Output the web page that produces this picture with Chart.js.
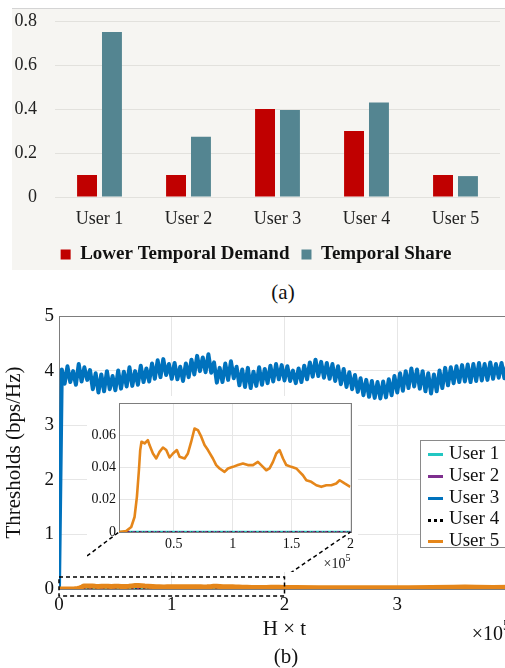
<!DOCTYPE html>
<html>
<head>
<meta charset="utf-8">
<script src="https://cdn.jsdelivr.net/npm/chart.js@4.4.1/dist/chart.umd.min.js"></script>
<style>
  html, body { margin: 0; padding: 0; width: 505px; height: 668px; overflow: hidden; background: #fff; }
  body { position: relative; font-family: 'Liberation Serif', serif; color: #111; }
  .abs { position: absolute; }
  #bgA { left: 12px; top: 8px; width: 493px; height: 262px; background: #f6f5f2; border-top: 1px solid #d4d4d4; box-sizing: border-box; }
  #chartA { left: 12px; top: 8px; }
  #mainB { left: 0; top: 300px; }
  #insetB { left: 87px; top: 396px; background: #fff; }
  .cap { width: 60px; text-align: center; font-size: 21px; line-height: 24px; }
  #legendB { left: 420px; top: 440px; width: 110px; height: 108px; border: 1px solid #8a8a8a; background: #fff; box-sizing: border-box; }
  .item { position: absolute; left: 0; height: 22px; line-height: 22px; font-size: 19px; white-space: nowrap; }
  .sw { display: inline-block; width: 15px; height: 0; margin: 0 6px 0 7px; vertical-align: middle; }
</style>
</head>
<body>
<div id="bgA" class="abs"></div>
<canvas id="chartA" class="abs" width="493" height="266"></canvas>
<div class="abs cap" style="left:253px; top:280px;">(a)</div>

<canvas id="mainB" class="abs" width="525" height="345"></canvas>
<canvas id="insetB" class="abs" width="271" height="176"></canvas>
<div id="legendB" class="abs"></div>
<div class="abs cap" style="left:256px; top:644px;">(b)</div>

<script>
// ---- panel (a) data ----
var userCats = ['User 1', 'User 2', 'User 3', 'User 4', 'User 5'];
var lowerDemand = [0.1, 0.1, 0.4, 0.3, 0.1];
var temporalShare = [0.75, 0.274, 0.395, 0.43, 0.095];

// ---- panel (b) data (x in units of 1e5) ----
var userNames = ['User 1', 'User 2', 'User 3', 'User 4', 'User 5'];
var userColors = ['#22c7c2', '#7e2f8e', '#0072bd', '#000000', '#e5861a'];

var zeroX = [0, 4];
var user1Thr = [0, 0];
var user2Thr = [0, 0];
var user4Thr = [0, 0];

var blueStep = 0.025;
var user3Thr = [0, 4.02, 3.76, 4.08, 3.79, 3.99, 3.74, 4.12, 3.80, 4.06,
  3.83, 4.01, 3.66, 3.95, 3.60, 3.93, 3.62, 3.99, 3.66, 3.90,
  3.64, 4.00, 3.67, 3.98, 3.71, 4.06, 3.72, 3.99, 3.74, 4.09,
  3.79, 4.04, 3.80, 4.13, 3.85, 4.19, 3.88, 4.21, 3.92, 4.12,
  3.85, 4.14, 3.84, 4.07, 3.81, 4.13, 3.88, 4.20, 3.93, 4.27,
  3.99, 4.24, 3.97, 4.30, 3.96, 4.15, 3.78, 4.05, 3.79, 4.13,
  3.83, 4.17, 3.86, 4.07, 3.73, 4.02, 3.70, 4.05, 3.68, 3.98,
  3.72, 4.06, 3.74, 4.03, 3.77, 4.09, 3.80, 4.12, 3.84, 4.10,
  3.82, 4.08, 3.81, 4.00, 3.77, 4.04, 3.79, 4.09, 3.84, 4.15,
  3.89, 4.20, 3.90, 4.16, 3.87, 4.14, 3.85, 4.12, 3.81, 4.08,
  3.75, 4.03, 3.70, 3.97, 3.66, 3.92, 3.61, 3.86, 3.55, 3.83,
  3.52, 3.81, 3.50, 3.79, 3.49, 3.80, 3.51, 3.84, 3.55, 3.90,
  3.60, 3.95, 3.63, 3.99, 3.68, 4.04, 3.71, 4.02, 3.67, 3.99,
  3.62, 3.95, 3.58, 3.93, 3.62, 4.00, 3.68, 4.05, 3.73, 4.06,
  3.77, 4.08, 3.79, 4.10, 3.80, 4.11, 3.79, 4.12, 3.81, 4.14,
  3.82, 4.12, 3.83, 4.15, 3.85, 4.12, 3.87, 4.14, 3.86, 4.11,
  3.88];

var user5X = [0, 0.034, 0.096, 0.139, 0.167, 0.187, 0.204, 0.215, 0.226, 0.252,
  0.280, 0.294, 0.323, 0.351, 0.379, 0.408, 0.436, 0.464, 0.493, 0.526,
  0.549, 0.592, 0.620, 0.648, 0.676, 0.705, 0.733, 0.761, 0.790, 0.832,
  0.860, 0.889, 0.931, 0.960, 1.002, 1.044, 1.087, 1.129, 1.172, 1.214,
  1.257, 1.285, 1.313, 1.342, 1.370, 1.398, 1.427, 1.455, 1.497, 1.540,
  1.568, 1.596, 1.625, 1.667, 1.710, 1.752, 1.795, 1.837, 1.879, 1.908,
  1.950, 1.998];
var user5Thr = [0, 0, 0.0006, 0.0031, 0.0093, 0.0218, 0.0383, 0.0508, 0.0560, 0.0549,
  0.0570, 0.0539, 0.0487, 0.0456, 0.0497, 0.0524, 0.0508, 0.0462, 0.0487, 0.0508,
  0.0466, 0.0456, 0.0487, 0.0560, 0.0642, 0.0632, 0.0591, 0.0539, 0.0508, 0.0456,
  0.0415, 0.0394, 0.0373, 0.0394, 0.0404, 0.0415, 0.0425, 0.0415, 0.0415, 0.0435,
  0.0404, 0.0383, 0.0394, 0.0435, 0.0487, 0.0508, 0.0456, 0.0415, 0.0404, 0.0394,
  0.0373, 0.0352, 0.0321, 0.0311, 0.0290, 0.0280, 0.0290, 0.0290, 0.0301, 0.0321,
  0.0301, 0.0280];
var user5TailX = [2.1, 2.3, 2.5, 2.7, 2.9, 3.1, 3.3, 3.5, 3.6, 3.7, 3.85, 4.0];
var user5Tail = [0.027, 0.025, 0.024, 0.022, 0.021, 0.024, 0.027, 0.030, 0.036, 0.032, 0.028, 0.030];

var mainXTicks = [0, 1, 2, 3, 4];
var mainXLabels = ['0', '1', '2', '3', ''];
var mainYTicks = [0, 1, 2, 3, 4, 5];
var insetXTicks = [0.5, 1, 1.5, 2];
var insetXLabels = ['0.5', '1', '1.5', '2'];
var insetYTicks = [0, 0.02, 0.04, 0.06];
var insetYLabels = ['0', '0.02', '0.04', '0.06'];

// zoomed region of the main plot (data units)
var zoomX = [0, 2];
var zoomY = [-0.13, 0.22];

function pts(xs, ys) {
  return ys.map(function (y, i) { return { x: xs[i], y: y }; });
}
var blueX = user3Thr.map(function (v, i) { return i * blueStep; });

var serif = 'Liberation Serif';
var gridGray = '#e6e6e6';
var frameGray = '#7d7d7d';

// drop the label overflow padding so the plot areas sit where layout.padding says
function noVPad(s) { s.paddingTop = 0; s.paddingBottom = 0; }

// ---------- panel (a) ----------
new Chart(document.getElementById('chartA'), {
  type: 'bar',
  data: {
    labels: userCats,
    datasets: [{
      label: 'Lower Temporal Demand',
      data: lowerDemand,
      backgroundColor: '#c00000',
      categoryPercentage: 0.56,
      barPercentage: 0.8
    }, {
      label: 'Temporal Share',
      data: temporalShare,
      backgroundColor: '#548591',
      categoryPercentage: 0.56,
      barPercentage: 0.8
    }]
  },
  options: {
    responsive: false,
    animation: false,
    events: [],
    layout: { padding: { top: 13, right: 5, left: 0, bottom: 0 } },
    plugins: {
      tooltip: { enabled: false },
      legend: {
        position: 'bottom',
        labels: {
          boxWidth: 10,
          boxHeight: 10,
          padding: 12,
          color: '#111',
          font: { family: serif, size: 19, weight: 'bold' }
        }
      }
    },
    scales: {
      x: {
        grid: { display: false, drawTicks: false },
        border: { display: false },
        ticks: { padding: 11, color: '#222', font: { family: serif, size: 18 } },
        afterFit: function (s) { s.height = 36; }
      },
      y: {
        min: 0,
        max: 0.8,
        ticks: { stepSize: 0.2, padding: 18, color: '#222', font: { family: serif, size: 18 } },
        grid: { color: '#e2e1dd', drawTicks: false },
        border: { display: false },
        afterFit: function (s) { s.width = 43; noVPad(s); }
      }
    }
  }
});

// ---------- helpers for panel (b) ----------
function drawExponent(ctx, right, y, size) {
  ctx.save();
  ctx.fillStyle = '#111';
  ctx.textBaseline = 'middle';
  ctx.textAlign = 'left';
  var supFont = Math.round(size * 0.72) + 'px "' + serif + '"';
  var baseFont = size + 'px "' + serif + '"';
  ctx.font = supFont;
  var sw = ctx.measureText('5').width;
  ctx.font = baseFont;
  var bw = ctx.measureText('\u00d710').width;
  var left = right - bw - sw;
  ctx.fillText('\u00d710', left, y);
  ctx.font = supFont;
  ctx.fillText('5', left + bw, y - size * 0.42);
  ctx.restore();
}

var framePlugin = {
  id: 'frame',
  beforeDatasetsDraw: function (chart) {
    var a = chart.chartArea, ctx = chart.ctx;
    ctx.save();
    ctx.strokeStyle = frameGray;
    ctx.lineWidth = 1;
    ctx.strokeRect(Math.round(a.left) + 0.5, Math.round(a.top) + 0.5,
      Math.round(a.right - a.left), Math.round(a.bottom - a.top));
    ctx.restore();
  }
};

function tickSetter(values) {
  return function (s) { s.ticks = values.map(function (v) { return { value: v }; }); };
}

var mainLeft = 0, mainTop = 300, insetLeft = 87, insetTop = 396;
var mainChart = null;

// dashed connectors from the zoom box to the inset corners, in a canvas placed at (offX, offY)
function drawConnectors(ctx, offX, offY) {
  if (!mainChart || !insetChart) return;
  var x = mainChart.scales.x, y = mainChart.scales.y, ia = insetChart.chartArea;
  var x0 = x.getPixelForValue(zoomX[0]) + mainLeft - offX;
  var x1 = x.getPixelForValue(zoomX[1]) + mainLeft - offX;
  var yTop = y.getPixelForValue(zoomY[1]) + mainTop - offY;
  ctx.save();
  ctx.strokeStyle = '#000';
  ctx.lineWidth = 1.5;
  ctx.setLineDash([4, 3]);
  ctx.beginPath();
  ctx.moveTo(x0, yTop);
  ctx.lineTo(insetLeft - offX + ia.left, insetTop - offY + ia.bottom);
  ctx.moveTo(x1, yTop);
  ctx.lineTo(insetLeft - offX + ia.right, insetTop - offY + ia.bottom);
  ctx.stroke();
  ctx.restore();
}

// ---------- inset ----------
var insetChart = new Chart(document.getElementById('insetB'), {
  type: 'line',
  data: {
    datasets: [
      { label: userNames[0], data: pts(zeroX, user1Thr), borderColor: userColors[0], borderWidth: 2.5, order: 4 },
      { label: userNames[1], data: pts(zeroX, user2Thr), borderColor: userColors[1], borderWidth: 2, borderDash: [3, 3], order: 3 },
      { label: userNames[3], data: pts(zeroX, user4Thr), borderColor: userColors[3], borderWidth: 1, borderDash: [1.5, 2.5], order: 1 },
      { label: userNames[4], data: pts(user5X, user5Thr), borderColor: userColors[4], borderWidth: 2.6, order: 0 }
    ]
  },
  options: {
    responsive: false,
    animation: false,
    events: [],
    elements: { point: { radius: 0 }, line: { tension: 0, borderJoinStyle: 'round' } },
    layout: { padding: { top: 7, right: 7, left: 0, bottom: 0 } },
    plugins: { legend: { display: false }, tooltip: { enabled: false } },
    scales: {
      x: {
        type: 'linear',
        min: 0.035,
        max: 2,
        afterBuildTicks: tickSetter(insetXTicks),
        ticks: {
          padding: 4, color: '#111', maxRotation: 0,
          font: { family: serif, size: 14 },
          callback: function (v, i) { return insetXLabels[i]; }
        },
        grid: { color: gridGray, drawTicks: false },
        border: { display: false },
        afterFit: function (s) { s.height = 40; }
      },
      y: {
        min: 0,
        max: 0.08,
        afterBuildTicks: tickSetter(insetYTicks),
        ticks: {
          padding: 3, color: '#111',
          font: { family: serif, size: 14 },
          callback: function (v, i) { return insetYLabels[i]; }
        },
        grid: { color: function (c) { return c.tick.value === 0 ? 'rgba(0,0,0,0)' : gridGray; }, drawTicks: false },
        border: { display: false },
        afterFit: function (s) { s.width = 32; noVPad(s); }
      }
    }
  },
  plugins: [framePlugin, {
    id: 'insetExtras',
    afterDraw: function (chart) {
      drawExponent(chart.ctx, chart.chartArea.right, 168, 14);
      drawConnectors(chart.ctx, insetLeft, insetTop);
    }
  }]
});

// ---------- main plot ----------
var zoomPlugin = {
  id: 'zoomBox',
  afterDatasetsDraw: function (chart) {
    var ctx = chart.ctx, x = chart.scales.x, y = chart.scales.y;
    var x0 = x.getPixelForValue(zoomX[0]), x1 = x.getPixelForValue(zoomX[1]);
    var yTop = y.getPixelForValue(zoomY[1]), yBot = y.getPixelForValue(zoomY[0]);
    ctx.save();
    ctx.strokeStyle = '#000';
    ctx.lineWidth = 1.5;
    ctx.setLineDash([4, 3]);
    ctx.strokeRect(x0, yTop, x1 - x0, yBot - yTop);
    ctx.restore();
  },
  afterDraw: function (chart) {
    drawExponent(chart.ctx, chart.chartArea.right, 335, 20);
    drawConnectors(chart.ctx, mainLeft, mainTop);
  }
};

mainChart = new Chart(document.getElementById('mainB'), {
  type: 'line',
  data: {
    datasets: [
      { label: userNames[0], data: pts(zeroX, user1Thr), borderColor: userColors[0], borderWidth: 3, order: 4 },
      { label: userNames[1], data: pts(zeroX, user2Thr), borderColor: userColors[1], borderWidth: 2, borderDash: [3, 3], order: 3 },
      { label: userNames[2], data: pts(blueX, user3Thr), borderColor: userColors[2], borderWidth: 4, order: 2 },
      { label: userNames[3], data: pts(zeroX, user4Thr), borderColor: userColors[3], borderWidth: 1.2, borderDash: [2, 2], order: 1 },
      { label: userNames[4], data: pts(user5X.concat(user5TailX), user5Thr.concat(user5Tail)), borderColor: userColors[4], borderWidth: 5, order: 0 }
    ]
  },
  options: {
    responsive: false,
    animation: false,
    events: [],
    elements: { point: { radius: 0 }, line: { tension: 0, borderJoinStyle: 'round' } },
    layout: { padding: { top: 16, right: 15, left: 0, bottom: 0 } },
    plugins: { legend: { display: false }, tooltip: { enabled: false } },
    scales: {
      x: {
        type: 'linear',
        min: 0,
        max: 4,
        afterBuildTicks: tickSetter(mainXTicks),
        ticks: {
          padding: 5, color: '#111', maxRotation: 0,
          font: { family: serif, size: 19 },
          callback: function (v, i) { return mainXLabels[i]; }
        },
        grid: { color: function (c) { return (c.tick.value === 0 || c.tick.value === 4) ? 'rgba(0,0,0,0)' : gridGray; }, drawTicks: false },
        border: { display: false },
        title: { display: true, text: 'H \u00d7 t', color: '#111', font: { family: serif, size: 21 }, padding: { top: 0, bottom: 3 } },
        afterFit: function (s) { s.height = 56; }
      },
      y: {
        min: 0,
        max: 5,
        afterBuildTicks: tickSetter(mainYTicks),
        ticks: { padding: 5, color: '#111', font: { family: serif, size: 19 } },
        grid: { color: function (c) { return (c.tick.value === 0 || c.tick.value === 5) ? 'rgba(0,0,0,0)' : gridGray; }, drawTicks: false },
        border: { display: false },
        title: { display: true, text: 'Thresholds (bps/Hz)', color: '#111', font: { family: serif, size: 21 }, padding: { top: 2, bottom: 0 } },
        afterFit: function (s) { s.width = 59; noVPad(s); }
      }
    }
  },
  plugins: [framePlugin, zoomPlugin]
});
// redraw the inset now that the main scales exist (for its part of the connectors)
insetChart.draw();

// ---------- legend of panel (b) ----------
var legendB = document.getElementById('legendB');
userNames.forEach(function (name, i) {
  var row = document.createElement('div');
  row.className = 'item';
  row.style.top = (1 + i * 21.8) + 'px';
  var sw = document.createElement('span');
  sw.className = 'sw';
  sw.style.borderTop = i === 3 ? '3px dotted #000' : '3px solid ' + userColors[i];
  row.appendChild(sw);
  row.appendChild(document.createTextNode(name));
  legendB.appendChild(row);
});
</script>
</body>
</html>
